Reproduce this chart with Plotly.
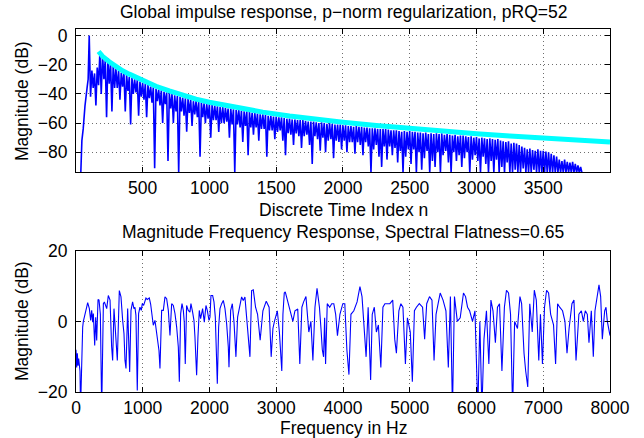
import plotly.graph_objects as go

# ---------------- data: top panel (impulse response, dB) ----------------
lead_n = [37, 45, 55, 68, 85, 92, 100]
lead_db = [-94, -72, -64, -48.5, -35, -30, 0]

band_n = list(range(100, 3800, 20))          # sample index of upper values
band_top = [
    0, -24, -26, -22, -11.5, -13, -17, -15.5, -19, -19.5,
    -23, -24, -25.5, -25.5, -27, -28.5, -29, -30, -30.5, -31.5,
    -32.5, -33, -34, -35, -35.5, -36.5, -37, -37.5, -38.5, -39,
    -39.5, -40, -41, -41.5, -42, -42.5, -43, -43.5, -44, -45,
    -45, -45.5, -46, -46.5, -47, -47, -47.5, -48, -48.5, -49,
    -49, -49.5, -50, -50, -50.5, -51, -51, -51.5, -52, -52,
    -52.5, -53, -53, -53.5, -54, -54, -54.5, -55, -55, -55.5,
    -55.5, -56, -56, -56.5, -57, -57, -57.5, -57.5, -58, -58,
    -58, -58.5, -59, -59, -59, -59.5, -60, -59.5, -60, -60.5,
    -60, -60.5, -61, -61, -61, -61.5, -61.5, -62, -62, -62.5,
    -62, -62.5, -62.5, -63, -63, -63.5, -63.5, -63.5, -64, -64,
    -64, -64, -64.5, -65, -65, -65, -65.5, -66, -65.5, -66,
    -65.5, -66, -66, -66.5, -66.5, -67, -66.5, -67.5, -67, -67.5,
    -67, -67.5, -67, -68, -67.5, -68, -68.5, -68, -69, -68.5,
    -68.5, -69, -69.5, -69, -70, -69.5, -70.5, -70, -70.5, -71,
    -70.5, -71, -71.5, -71, -72, -72.5, -73, -72.5, -74, -73.5,
    -74, -75, -76, -77, -78, -77.5, -78.5, -79, -78, -79,
    -79, -79.5, -80, -81, -82, -83, -85, -86, -85, -86.5,
    -87, -86.5, -88, -89, -90,
]
band_bot = [
    -42, -36, -48, -34, -40, -30, -56, -33, -52, -36,
    -36, -44, -35, -52, -38, -61, -40, -39, -55, -42,
    -44, -56, -43, -46, -91, -45, -48, -60, -47, -86,
    -50, -60, -52, -94, -52, -55, -66, -53, -62, -54,
    -56, -83, -56, -60, -57, -70, -58, -58, -66, -60,
    -60, -59, -70, -61, -94, -61, -63, -73, -62, -82,
    -63, -68, -63, -72, -64, -64, -83, -65, -65, -71,
    -66, -65, -72, -82, -67, -68, -75, -67, -69, -77,
    -69, -68, -75, -88, -69, -71, -79, -70, -80, -72,
    -71, -84, -72, -73, -78, -72, -80, -73, -73, -81,
    -73, -75, -82, -73, -76, -94, -78, -75, -83, -90,
    -76, -85, -76, -82, -77, -87, -79, -94, -83, -78,
    -88, -78, -94, -80, -92, -84, -79, -94, -86, -90,
    -80, -94, -82, -79, -87, -94, -80, -86, -82, -90,
    -84, -80, -94, -85, -82, -86, -94, -83, -88, -94,
    -86, -94, -85, -94, -90, -94, -87, -94, -94, -92,
    -94, -94, -91, -94, -94, -94, -92, -94, -94, -94,
    -94, -94, -94, -94, -94, -94, -94, -94, -94, -94,
    -94, -94, -94, -94, -94,
]

env_n = [170, 200, 250, 300, 350, 400, 500, 600, 700, 800, 900, 1000, 1200,
         1400, 1600, 1800, 2000, 2250, 2500, 2750, 3000, 3250, 3500, 3750, 4000]
env_db = [-11, -14.3, -18, -21.5, -24.2, -26.5, -31, -34.8, -38, -41, -43.6,
          -45.7, -49.5, -52.5, -55.1, -57.4, -59.4, -61.7, -63.8, -65.6, -67.3,
          -68.9, -70.3, -71.6, -72.9]

top_xticks = [500, 1000, 1500, 2000, 2500, 3000, 3500]
top_yticks = [-80, -60, -40, -20, 0]

# ---------------- data: bottom panel (frequency response, dB) ----------------
freq_db_pairs = [
    (0, -8), (10, -13), (20, -9), (30, -12.5), (40, -10.5), (50, -12), (60, -14), (68, -25),
    (80, -12), (90, -5), (100, -1.6), (110, 0), (135, 1.7), (160, 4), (175, 5.3), (200, 3.6),
    (220, 0.3), (235, 3.1), (250, -0.2), (260, 2.2), (280, -6.8), (295, 1.2), (310, -5.4),
    (330, 6.2), (345, 6), (365, 2), (385, -25), (400, -8), (410, 5), (425, 5.5), (460, 3.6),
    (484, 7.3), (510, 6), (534, -7.2), (549, -11), (569, 3.6), (599, -4.4), (619, -11),
    (649, 8.7), (674, 6.9), (699, 0.3), (719, -3.5), (734, -11), (749, -13.3), (774, 3.6),
    (789, -3), (804, -14.3), (824, 3.1), (848, 5.5), (868, 3.6), (883, 4), (898, 1.7),
    (918, -19.5), (938, 2.2), (958, 4), (978, 3.1), (993, 5), (1013, 4.5), (1048, 6.6),
    (1068, 6.2), (1098, 6.6), (1118, 4.9), (1138, 1.7), (1158, -1.1), (1183, 0.3),
    (1208, -3.5), (1223, -5.8), (1243, -8.2), (1258, -13.3), (1283, 3.1), (1308, 3.1),
    (1333, 6.9), (1358, 6.4), (1383, 3.1), (1408, -4), (1433, 5), (1458, 4.5), (1483, 2.2),
    (1508, -1.6), (1533, -7.3), (1548, -17), (1568, 2.2), (1588, 5), (1608, 3.1),
    (1622, -0.2), (1637, -12), (1657, 4.5), (1682, 3.1), (1707, 2.6), (1722, 5), (1747, 2.6),
    (1767, 0.3), (1782, -4.4), (1807, -15.2), (1827, -4.4), (1847, 3.1), (1867, 0.8),
    (1897, 3.6), (1922, -0.2), (1947, 4.5), (1967, 3.1), (1992, 0.3), (2007, 1.2),
    (2022, 7.3), (2047, 7.3), (2067, 5.5), (2087, 1.2), (2107, -11), (2117, -17.6),
    (2137, -1.6), (2157, 3.6), (2182, 5), (2207, 5.9), (2232, 3.6), (2257, -0.7),
    (2282, -7.3), (2292, -12.9), (2317, 3.1), (2342, 5), (2367, -0.2), (2381, -4.4),
    (2396, -10), (2421, 1.2), (2446, 3.6), (2481, 6.9), (2506, 5.9), (2531, 6.9),
    (2556, 1.2), (2581, -5.4), (2606, -10), (2631, 8.7), (2656, 8.9), (2690, 4), (2720, 2),
    (2759, -5.3), (2800, 3), (2850, 5.7), (2893, 4), (2924, -10), (2950, -2), (2973, 0),
    (3016, 3), (3047, -3), (3083, -14), (3100, 2), (3120, 8), (3135, 8.3), (3169, 6),
    (3212, 3), (3249, 0), (3280, 3), (3322, 3.5), (3353, -12), (3384, 4), (3410, 5.5),
    (3445, 7), (3488, -3), (3519, 0), (3549, -11), (3580, 4), (3611, 9.3), (3647, 4),
    (3670, -2), (3690, -8), (3709, -10), (3725, 1), (3739, -12), (3764, 5), (3801, 4),
    (3831, 5), (3862, 5), (3890, 2), (3917, -4), (3954, 2), (3997, 5), (4027, 5),
    (4058, -8), (4089, -15), (4119, 2), (4162, 3), (4211, 5.5), (4254, 9.8), (4285, 7),
    (4316, -2), (4346, -10), (4377, 4), (4414, -16.5), (4438, 2), (4469, 4), (4500, -3),
    (4530, -1), (4567, -13), (4598, 4), (4628, 5), (4671, 5), (4702, 5), (4745, 6),
    (4775, -5), (4800, -9), (4837, 3), (4867, 5), (4898, 4), (4935, -12), (4965, 1),
    (5008, -3), (5039, -17), (5070, 3), (5100, 4), (5143, 5), (5192, 4), (5223, -5),
    (5254, 5), (5296, 7), (5333, 6), (5364, -11), (5394, 2), (5425, 5), (5456, 8),
    (5499, 6), (5542, 3), (5578, -13), (5609, 7), (5640, -25), (5670, 7), (5713, 0),
    (5756, 1), (5805, 8), (5836, 7), (5866, 4), (5897, 3), (5940, 0), (5977, 3),
    (6020, -25), (6050, 0), (6081, -25), (6112, -5), (6149, 3), (6185, -12), (6216, 6),
    (6247, 3), (6283, -6), (6314, 4), (6345, 5), (6381, -14), (6418, 4), (6449, 8.8),
    (6480, 8), (6510, 2), (6541, -25), (6571, 0), (6614, -2), (6651, 7), (6676, 5),
    (6712, -9), (6737, -14), (6768, -18.5), (6798, 5), (6835, -3), (6866, 8.8), (6896, 6),
    (6933, -11), (6958, 2), (6988, -12), (7019, 4), (7050, 8.8), (7080, 8), (7111, 2),
    (7154, -1), (7185, -12), (7215, 5), (7246, 4), (7289, 3), (7325, 0), (7356, -9),
    (7387, -2), (7430, 5), (7460, 6), (7491, -11), (7534, 2), (7571, 3), (7601, 0),
    (7630, 3), (7660, 2), (7685, -6), (7720, 3), (7750, -10), (7775, 3), (7810, 8),
    (7835, 10.3), (7860, 7), (7885, -5), (7920, 3), (7940, 4), (7960, 0), (7985, -2),
    (8000, -4),
]
freq_hz = [p[0] for p in freq_db_pairs]
mag_db = [p[1] for p in freq_db_pairs]

bot_xticks = [0, 1000, 2000, 3000, 4000, 5000, 6000, 7000, 8000]
bot_yticks = [-20, 0, 20]

# ---------------- build traces ----------------
imp_x, imp_y = list(lead_n), list(lead_db)
for n, t, b in zip(band_n, band_top, band_bot):
    if n == band_n[0]:
        imp_x.append(n + 10)
        imp_y.append(b)
        continue
    imp_x += [n, n + 10]
    imp_y += [t, b]

W, H = 644, 438
FONT = "Liberation Sans, Arial, Helvetica, sans-serif"
FS = 17.5

fig = go.Figure()
fig.add_trace(go.Scatter(x=imp_x, y=imp_y, mode="lines",
                         line=dict(color="#0000ff", width=1.6), xaxis="x", yaxis="y",
                         hoverinfo="skip"))
fig.add_trace(go.Scatter(x=env_n, y=env_db, mode="lines",
                         line=dict(color="#00ffff", width=5), xaxis="x", yaxis="y"))
fig.add_trace(go.Scatter(x=freq_hz, y=mag_db, mode="lines",
                         line=dict(color="#0000ff", width=1.1), xaxis="x2", yaxis="y2"))

xl, xr = 76 / W, 610 / W
def ydom(top_px, bot_px):
    return [1 - bot_px / H, 1 - top_px / H]

axis_common = dict(showline=True, linecolor="black", linewidth=1, mirror="ticks",
                   ticks="inside", ticklen=5, tickcolor="black", tickwidth=1,
                   showgrid=True, gridcolor="#6e6e6e", griddash="1px,3px", gridwidth=1,
                   zeroline=False, automargin=False,
                   tickfont=dict(size=FS, color="black", family=FONT))

fig.update_layout(
    width=W, height=H, autosize=False, showlegend=False,
    margin=dict(l=0, r=0, t=0, b=0, pad=0),
    paper_bgcolor="white", plot_bgcolor="white",
    font=dict(family=FONT, color="black", size=FS),
    xaxis=dict(domain=[xl, xr], range=[1, 4000], tickvals=top_xticks, anchor="y",
               **axis_common),
    yaxis=dict(domain=ydom(29.3, 172.3), range=[-93.7, 4.2], tickvals=top_yticks,
               anchor="x", ticklabelstandoff=4, **axis_common),
    xaxis2=dict(domain=[xl, xr], range=[0, 8000], tickvals=bot_xticks, anchor="y2",
                **axis_common),
    yaxis2=dict(domain=ydom(250.5, 392.3), range=[-20, 20], tickvals=bot_yticks,
                anchor="x2", ticklabelstandoff=4, **axis_common),
)

cx = (76 + 610) / 2 / W
def ann(text, x_px, y_px, angle=0):
    fig.add_annotation(text=text, xref="paper", yref="paper", x=x_px / W if x_px > 1 else x_px,
                       y=1 - y_px / H, showarrow=False, textangle=angle,
                       xanchor="center", yanchor="middle",
                       font=dict(size=FS, family=FONT, color="black"))

ann("Global impulse response, p\u2212norm regularization, pRQ=52", cx, 12)
ann("Discrete Time Index n", cx, 210)
ann("Magnitude Frequency Response, Spectral Flatness=0.65", cx, 232)
ann("Frequency in Hz", cx, 428)
ann("Magnitude (dB)", 22, 101, -90)
ann("Magnitude (dB)", 22, 321, -90)

fig.write_html("out.html", config={"displayModeBar": False},
               post_script="document.body.style.margin='0px';document.body.style.overflow='hidden';")
